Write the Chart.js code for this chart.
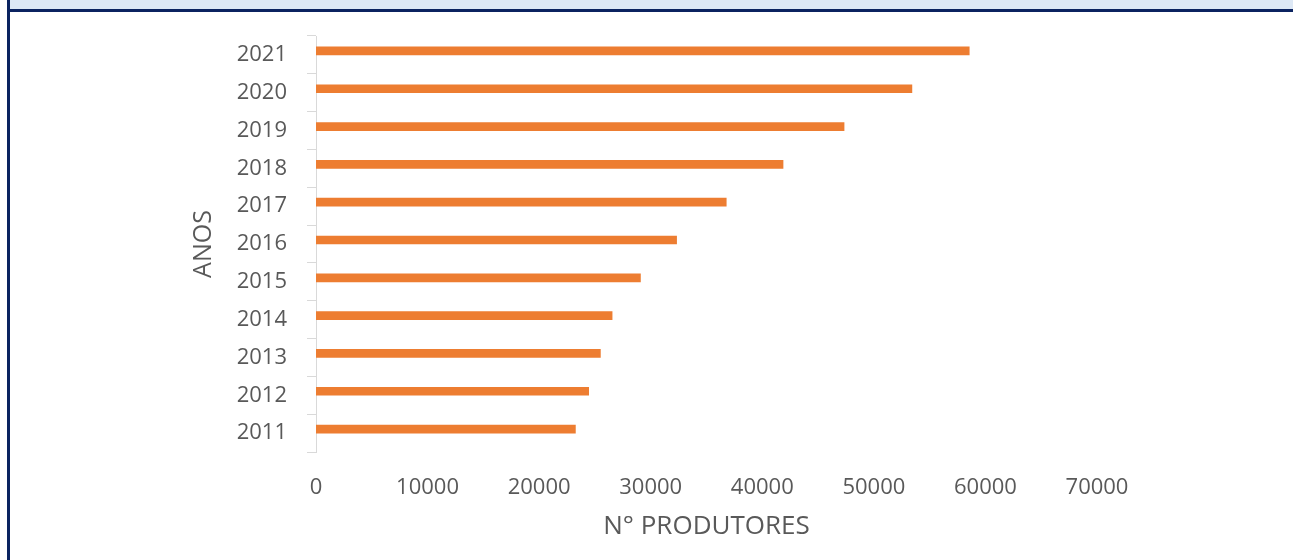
<!DOCTYPE html>
<html>
<head>
<meta charset="utf-8">
<script src="https://cdn.jsdelivr.net/npm/chart.js@4/dist/chart.umd.min.js"></script>
<style>
  html, body { margin: 0; padding: 0; background: #ffffff; }
  #wrap { position: relative; width: 1293px; height: 560px; overflow: hidden; }
  #band { position: absolute; left: 7px; top: 0; width: 1286px; height: 9px; background: #dde8f5; }
  #topLine { position: absolute; left: 7px; top: 9px; width: 1286px; height: 3px; background: #0b2360; }
  #leftLine { position: absolute; left: 7px; top: 0; width: 3px; height: 560px; background: #0b2360; }
  #chartBox { position: absolute; left: 0; top: 0; width: 1293px; height: 560px; }
</style>
</head>
<body>
<div id="wrap">
  <div id="band"></div>
  <div id="topLine"></div>
  <div id="leftLine"></div>
  <div id="chartBox"><canvas id="produtoresChart"></canvas></div>
</div>
<script>
const anos = ['2011', '2012', '2013', '2014', '2015', '2016', '2017', '2018', '2019', '2020', '2021'];
const produtores = [23250, 24440, 25490, 26540, 29080, 32320, 36770, 41860, 47330, 53410, 58550];
const xTicks = [0, 10000, 20000, 30000, 40000, 50000, 60000, 70000];

const textColor = '#595959';
const fontFamily = '"Open Sans", sans-serif';

document.addEventListener('DOMContentLoaded', function () {
  createChart();
});

function createChart() {
  const ctx = document.getElementById('produtoresChart');
  new Chart(ctx, {
    type: 'bar',
    data: {
      labels: anos,
      datasets: [{
        label: 'N° Produtores',
        data: produtores,
        backgroundColor: '#ed7d31',
        barThickness: 8,
        categoryPercentage: 0.48,
        borderWidth: 0
      }, {
        // serie vazia, como no Excel: empurra as barras um pouco para cima
        label: '',
        data: [],
        barThickness: 8,
        categoryPercentage: 0.48
      }]
    },
    options: {
      indexAxis: 'y',
      responsive: true,
      maintainAspectRatio: false,
      animation: false,
      plugins: {
        legend: { display: false },
        tooltip: { enabled: false }
      },
      layout: { padding: { left: 180, right: 196, top: 36, bottom: 0 } },
      scales: {
        x: {
          min: xTicks[0],
          max: xTicks[xTicks.length - 1],
          afterBuildTicks: scale => { scale.ticks = xTicks.map(v => ({ value: v })); },
          afterFit: scale => { scale.height = 108; },
          grid: { display: false },
          border: { display: false },
          ticks: {
            color: textColor,
            padding: 15,
            maxRotation: 0,
            callback: value => String(value),
            font: { family: fontFamily, size: 22 }
          },
          title: {
            display: true,
            text: 'N° PRODUTORES',
            color: textColor,
            padding: { top: 0, bottom: 18 },
            font: { family: fontFamily, size: 26 }
          }
        },
        y: {
          reverse: true,
          afterFit: scale => { scale.width = 136; },
          grid: {
            drawOnChartArea: false,
            drawTicks: true,
            tickLength: 9,
            color: '#d9d9d9',
            offset: true
          },
          border: { display: true, color: '#d9d9d9', width: 1 },
          ticks: {
            color: textColor,
            padding: 20,
            font: { family: fontFamily, size: 22 }
          },
          title: {
            display: true,
            text: 'ANOS',
            color: textColor,
            padding: { top: 9, bottom: 0 },
            font: { family: fontFamily, size: 25 }
          }
        }
      }
    }
  });
}
</script>
</body>
</html>
